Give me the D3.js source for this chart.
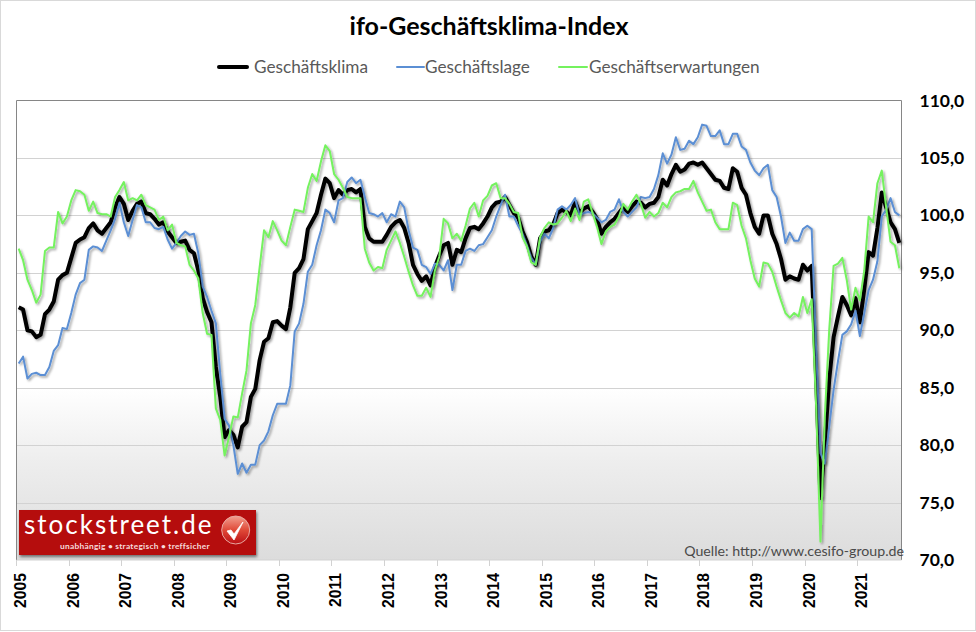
<!DOCTYPE html>
<html>
<head>
<meta charset="utf-8">
<title>ifo-Geschäftsklima-Index</title>
<script src="https://cdn.jsdelivr.net/npm/d3@7/dist/d3.min.js"></script>
<style>
    html, body { margin: 0; padding: 0; background: #fff; }
    svg { display: block; }
</style>
</head>
<body>
<script>
//VALUES, one row per year, monthly from Jan 2005 to Oct 2021
var years = ["2005","2006","2007","2008","2009","2010","2011","2012","2013","2014","2015","2016","2017","2018","2019","2020","2021"];
var monthsPerYear = ["01","02","03","04","05","06","07","08","09","10","11","12"];
var lastMonth = "2021-10";
var yTicks = [70,75,80,85,90,95,100,105,110];

var klima = [
    92.0,91.8,90.0,89.9,89.4,89.6,91.4,91.8,92.5,94.4,94.8,95.0,
    96.3,97.6,97.9,98.1,98.9,99.3,98.7,98.4,98.9,99.4,100.7,101.6,
    101.0,99.6,100.4,101.0,101.2,100.2,100.1,99.7,99.2,99.4,98.6,98.1,
    97.6,97.7,97.8,97.0,96.7,95.2,92.8,91.6,90.7,86.8,84.2,80.7,
    81.3,80.9,79.8,81.6,82.0,84.2,84.9,87.4,89.0,89.3,90.7,90.8,
    90.4,90.1,92.0,95.0,95.4,96.2,98.8,99.5,100.2,101.8,103.2,102.8,
    101.5,102.2,101.8,102.2,102.3,102.0,102.3,99.0,98.0,97.7,97.7,97.7,
    98.3,99.0,99.4,99.6,98.9,97.6,95.7,94.9,94.3,94.7,93.9,95.5,
    96.5,97.4,97.6,95.7,97.0,96.8,98.0,98.9,99.0,98.8,99.3,99.9,
    100.7,101.1,101.2,101.6,100.9,100.2,99.8,98.6,97.7,96.4,95.7,98.0,
    98.6,98.7,99.2,100.2,100.5,100.3,100.0,101.2,100.2,100.6,100.8,100.3,
    99.7,98.4,99.0,99.4,99.7,100.2,100.7,100.3,100.8,101.2,101.1,100.7,
    101.0,101.1,101.6,103.1,102.6,103.6,104.4,103.8,104.0,104.5,104.6,104.4,
    104.6,104.1,103.6,103.1,103.0,102.4,102.3,104.1,103.8,102.4,101.8,100.2,
    99.0,98.4,100.0,100.0,98.4,97.5,96.2,94.4,94.7,94.5,94.4,95.7,
    95.2,95.6,86.0,75.4,80.2,85.7,89.4,91.2,92.9,92.2,91.3,92.8,
    90.7,93.6,96.8,96.5,98.9,102.0,100.7,99.4,98.8,97.6
];

var lage = [
    87.1,87.7,85.8,86.2,86.3,86.1,86.1,86.8,88.2,88.7,90.2,90.1,
    91.5,93.1,94.1,94.4,97.0,97.3,97.2,96.9,97.8,98.7,99.7,101.1,
    99.4,98.2,99.6,100.9,100.7,99.4,99.4,98.9,98.8,99.0,97.9,97.1,
    97.6,98.2,98.6,98.3,98.4,96.7,93.8,92.9,91.7,90.6,86.2,82.3,
    81.7,80.0,77.5,78.4,77.6,78.3,78.3,80.0,80.4,81.2,82.6,83.6,
    83.6,83.6,85.2,89.9,90.6,92.3,95.1,95.7,97.4,98.7,100.5,100.2,
    99.4,101.3,101.5,102.9,103.3,102.8,103.1,101.6,100.2,100.1,99.9,100.2,
    99.4,100.1,99.9,101.2,100.7,98.7,97.2,97.0,95.7,95.5,94.9,95.8,
    95.7,95.2,96.1,93.5,95.7,95.7,96.9,97.1,96.9,97.4,97.5,98.1,
    98.7,99.9,100.9,101.8,99.9,99.9,99.1,98.4,97.4,96.3,95.7,97.7,
    98.4,98.0,98.9,100.5,100.8,100.5,100.9,101.5,100.0,100.2,100.3,100.2,
    99.8,99.4,99.6,100.3,100.5,101.4,100.3,99.9,100.3,100.7,101.6,101.5,
    101.6,102.3,103.5,105.4,104.5,105.3,106.8,105.7,105.8,106.5,106.2,106.8,
    107.9,107.8,106.9,106.9,107.4,106.2,106.2,107.1,107.1,106.0,105.7,104.6,
    103.9,103.5,104.1,104.4,102.2,101.6,99.9,97.6,98.5,97.8,97.8,98.8,
    99.1,98.8,88.6,79.3,78.4,81.6,84.8,87.3,89.6,89.9,90.5,91.7,
    89.5,91.5,93.5,94.4,96.0,99.9,100.5,101.5,100.3,100.0
];

var erwartungen = [
    97.1,96.1,94.4,93.5,92.4,93.1,96.9,97.2,97.2,100.3,99.3,99.9,
    101.3,102.2,102.1,101.8,100.4,101.2,100.2,100.1,100.1,99.9,101.6,102.2,
    102.9,101.3,101.5,101.3,101.8,100.9,100.7,100.5,99.6,99.9,98.7,99.2,
    97.6,97.4,97.3,95.7,95.2,94.5,91.5,89.7,89.6,83.2,82.2,79.1,
    80.7,82.5,82.4,84.5,86.5,90.6,92.2,95.5,98.7,98.1,99.5,98.7,
    97.8,97.4,99.0,100.5,100.4,100.3,102.4,103.6,103.0,104.7,106.1,105.6,
    103.6,103.1,102.4,101.6,101.5,101.5,101.5,97.1,95.9,95.2,95.5,95.4,
    97.0,97.8,98.6,97.6,96.4,95.1,93.9,93.0,93.0,93.7,92.9,95.2,
    96.4,99.7,99.3,98.0,98.4,97.8,99.1,100.6,101.1,99.9,101.3,101.7,
    102.6,102.8,101.5,101.5,101.0,100.3,100.2,98.1,97.3,95.9,95.7,98.1,
    98.9,99.4,99.2,99.3,99.8,100.4,99.5,100.6,99.6,101.2,101.4,100.2,
    99.0,97.5,98.6,99.0,99.2,99.9,101.0,100.5,101.2,101.8,101.0,99.8,
    100.3,99.9,100.2,101.1,100.7,101.6,102.0,102.1,102.3,102.3,103.0,102.0,
    101.2,100.4,100.5,99.4,98.8,98.8,98.8,101.1,100.9,99.1,98.0,96.1,
    94.5,93.8,95.9,95.8,95.1,93.8,92.6,91.5,91.1,91.5,91.2,92.9,
    91.5,92.7,83.5,71.6,82.5,90.0,95.6,95.8,96.3,94.4,91.8,93.7,
    92.6,95.2,99.9,99.4,102.8,103.9,100.7,97.7,97.4,95.4
];

//Month categories, one band per value
var months = [];
years.forEach(function(yr) {
    monthsPerYear.forEach(function(m) {
        var key = yr + "-" + m;
        if (key <= lastMonth) months.push(key);
    });
});

//Drawing order: black at the bottom, green on top
var seriesList = [
    {name: "Geschäftsklima", values: klima, color: "#000000", width: 4},
    {name: "Geschäftslage", values: lage, color: "#5b8fd4", width: 2},
    {name: "Geschäftserwartungen", values: erwartungen, color: "#74f25e", width: 2}
];

//Set height and width
var w = 976;
var h = 632;

//Plot area edges
var margin = {top: 100.5, bottom: 72, right: 74.5, left: 16.5};
var plotW = w - margin.left - margin.right;
var plotH = h - margin.top - margin.bottom;

//Set up scales
var x = d3.scaleBand().domain(months).range([margin.left, margin.left + plotW]);
var y = d3.scaleLinear().domain([70, 110]).range([margin.top + plotH, margin.top]);

var deLocale = d3.formatLocale({decimal: ",", thousands: ".", grouping: [3], currency: ["", " €"]});

//Append the svg to the DOM
var svg = d3.select("body").append("svg")
    .attr("id", "chart")
    .attr("width", w)
    .attr("height", h);

var defs = svg.append("defs");

var grad = defs.append("linearGradient")
    .attr("id", "plotFill")
    .attr("x1", 0).attr("y1", 0).attr("x2", 0).attr("y2", 1);
grad.append("stop").attr("offset", "62.5%").attr("stop-color", "#ffffff");
grad.append("stop").attr("offset", "78%").attr("stop-color", "#eeeeee");
grad.append("stop").attr("offset", "100%").attr("stop-color", "#dcdcdc");

var shadow = defs.append("filter")
    .attr("id", "lineShadow")
    .attr("filterUnits", "userSpaceOnUse")
    .attr("x", 0).attr("y", 0).attr("width", w).attr("height", h);
shadow.append("feDropShadow")
    .attr("dx", 1.6).attr("dy", 1.6)
    .attr("stdDeviation", 1.1)
    .attr("flood-color", "#000")
    .attr("flood-opacity", 0.38);

var logoShadow = defs.append("filter")
    .attr("id", "logoShadow")
    .attr("x", "-5%").attr("y", "-15%").attr("width", "110%").attr("height", "135%");
logoShadow.append("feDropShadow")
    .attr("dx", 1).attr("dy", 2)
    .attr("stdDeviation", 1.4)
    .attr("flood-color", "#000")
    .attr("flood-opacity", 0.5);

var badgeFill = defs.append("linearGradient")
    .attr("id", "badgeFill")
    .attr("x1", 0).attr("y1", 0).attr("x2", 0).attr("y2", 1);
badgeFill.append("stop").attr("offset", "0%").attr("stop-color", "#f2a090");
badgeFill.append("stop").attr("offset", "50%").attr("stop-color", "#e04a38");
badgeFill.append("stop").attr("offset", "100%").attr("stop-color", "#bb0f14");

//Outer frame
svg.append("rect")
    .attr("x", 0.5).attr("y", 0.5)
    .attr("width", w - 1).attr("height", h - 2)
    .attr("fill", "#fff")
    .attr("stroke", "#d9d9d9");

//Plot background
svg.append("rect")
    .attr("x", margin.left).attr("y", margin.top)
    .attr("width", plotW).attr("height", plotH)
    .attr("fill", "url(#plotFill)");

//Gridlines
svg.append("g").selectAll("line")
    .data(yTicks.filter(function(d) { return d > 70 && d < 110; }))
    .enter()
        .append("line")
        .attr("x1", margin.left).attr("x2", margin.left + plotW)
        .attr("y1", function(d) { return Math.round(y(d)) + 0.5; })
        .attr("y2", function(d) { return Math.round(y(d)) + 0.5; })
        .style("stroke", "#d2d2d2")
        .style("stroke-width", 1);

//Top, right and left border of the plot
svg.append("path")
    .attr("d", d3.line()([
        [margin.left, margin.top + plotH],
        [margin.left, margin.top],
        [margin.left + plotW, margin.top],
        [margin.left + plotW, margin.top + plotH]
    ]))
    .attr("fill", "none")
    .style("stroke", "#868686")
    .style("stroke-width", 1);

//Bottom axis, ticks sit on the band edges at each January
var xAxis = svg.append("g").classed("xAxis", true);
xAxis.append("line")
    .attr("x1", margin.left).attr("x2", margin.left + plotW)
    .attr("y1", margin.top + plotH).attr("y2", margin.top + plotH)
    .style("stroke", "#d2d2d2");
var yearTick = xAxis.selectAll(".yearTick")
    .data(years)
    .enter()
        .append("g")
        .classed("yearTick", true)
        .attr("transform", function(d) { return "translate(" + (Math.round(x(d + "-01") - 0.5) + 0.5) + "," + (margin.top + plotH) + ")"; });
yearTick.append("line")
    .attr("y2", 6)
    .style("stroke", "#d2d2d2");
yearTick.append("text")
    .attr("transform", "translate(9.5,13) rotate(-90)")
    .style("text-anchor", "end")
    .style("font-family", "'Liberation Sans'")
    .style("font-weight", "bold")
    .style("font-size", "15.7px")
    .style("fill", "#000")
    .text(function(d) { return d; });

//Right axis
var yAxis = d3.axisRight(y)
    .tickValues(yTicks)
    .tickSize(0)
    .tickPadding(18)
    .tickFormat(deLocale.format(".1f"));
svg.append("g")
    .classed("yAxis", true)
    .attr("transform", "translate(" + (margin.left + plotW) + ",0)")
    .call(yAxis)
    .call(function(g) { g.select(".domain").remove(); })
    .selectAll("text")
        .style("font-family", "Lato")
        .style("font-weight", "bold")
        .style("font-size", "17.5px")
        .style("fill", "#000");

//Draw the lines
var line = d3.line()
    .x(function(d, i) { return x(months[i]) + x.bandwidth() / 2; })
    .y(function(d) { return y(d); });

svg.append("g").selectAll(".series")
    .data(seriesList)
    .enter()
        .append("path")
        .classed("series", true)
        .attr("d", function(d) { return line(d.values); })
        .attr("fill", "none")
        .attr("filter", "url(#lineShadow)")
        .style("stroke", function(d) { return d.color; })
        .style("stroke-width", function(d) { return d.width; })
        .style("stroke-linejoin", "round");

//Title
svg.append("text")
    .attr("x", 489).attr("y", 35)
    .style("text-anchor", "middle")
    .style("font-family", "Lato")
    .style("font-weight", "bold")
    .style("font-size", "25px")
    .style("fill", "#000")
    .text("ifo-Geschäftsklima-Index");

//Legend
var legendItems = [
    {name: "Geschäftsklima", color: "#000000", width: 4, x1: 219, x2: 247, tx: 254},
    {name: "Geschäftslage", color: "#5b8fd4", width: 2, x1: 397, x2: 424, tx: 425},
    {name: "Geschäftserwartungen", color: "#74f25e", width: 2, x1: 559, x2: 587, tx: 589}
];
var legend = svg.append("g").classed("legend", true);
legend.selectAll("line")
    .data(legendItems)
    .enter()
        .append("line")
        .attr("x1", function(d) { return d.x1; })
        .attr("x2", function(d) { return d.x2; })
        .attr("y1", 67).attr("y2", 67)
        .style("stroke", function(d) { return d.color; })
        .style("stroke-width", function(d) { return d.width; })
        .style("stroke-linecap", "round");
legend.selectAll("text")
    .data(legendItems)
    .enter()
        .append("text")
        .attr("x", function(d) { return d.tx; })
        .attr("y", 73)
        .style("font-family", "Lato")
        .style("font-size", "17.2px")
        .style("fill", "#595959")
        .text(function(d) { return d.name; });

//Source note
svg.append("text")
    .attr("x", 904).attr("y", 556)
    .style("text-anchor", "end")
    .style("font-family", "Lato")
    .style("font-size", "14.2px")
    .style("fill", "#4a4a4a")
    .text("Quelle: http://www.cesifo-group.de");

//Logo
var logo = svg.append("g").classed("logo", true).attr("transform", "translate(19,510)");
logo.append("rect")
    .attr("width", 237).attr("height", 45)
    .attr("fill", "#b50a10")
    .attr("filter", "url(#logoShadow)");
logo.append("text")
    .attr("x", 5).attr("y", 24)
    .style("font-family", "Lato")
    .style("font-size", "26px")
    .style("letter-spacing", "2px")
    .style("fill", "#fff")
    .text("stockstreet.de");
logo.append("text")
    .attr("x", 41).attr("y", 39)
    .style("font-family", "Lato")
    .style("font-weight", "bold")
    .style("font-size", "8.4px")
    .style("letter-spacing", "0.25px")
    .style("fill", "#f6dcdc")
    .text("unabhängig • strategisch • treffsicher");
logo.append("circle")
    .attr("cx", 216.7).attr("cy", 20).attr("r", 14)
    .attr("fill", "url(#badgeFill)")
    .attr("stroke", "#e8a8a0")
    .attr("stroke-width", 1);
logo.append("path")
    .attr("d", "M208,21 L212,20 L215,24 L224,12 L215,30 Z")
    .attr("fill", "#fff")
    .attr("stroke", "#fff")
    .attr("stroke-width", 0.8)
    .attr("stroke-linejoin", "round");
</script>
</body>
</html>
